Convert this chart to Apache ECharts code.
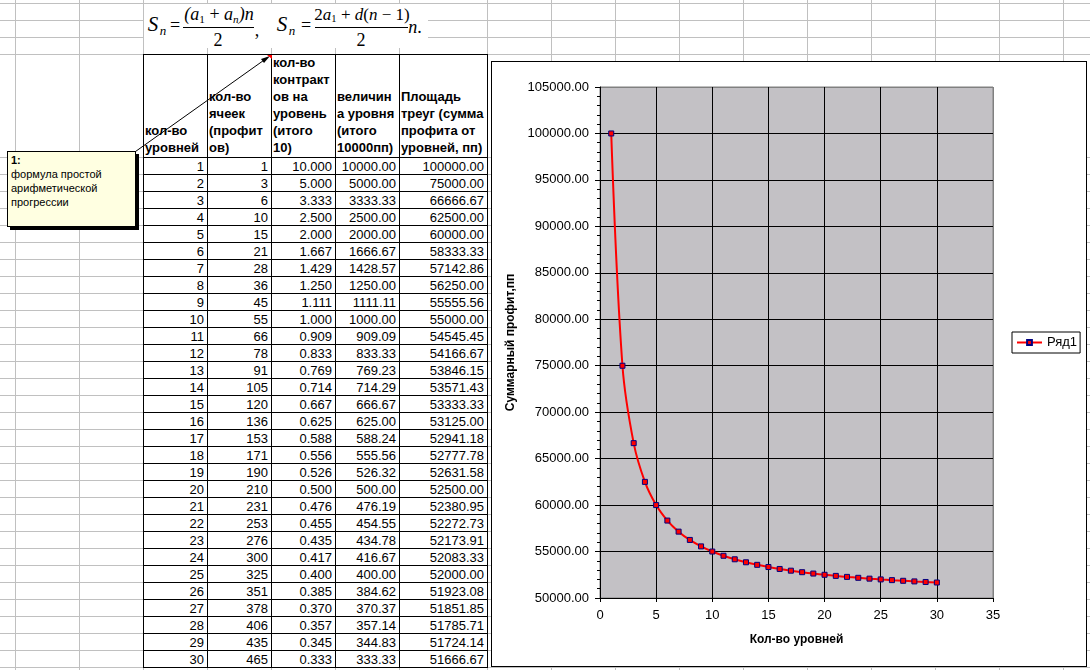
<!DOCTYPE html>
<html><head><meta charset="utf-8">
<script src="https://cdn.jsdelivr.net/npm/echarts@6/dist/echarts.min.js"></script>
<style>
html,body{margin:0;padding:0;width:1090px;height:670px;overflow:hidden;background:#fff;}
body{position:relative;font-family:Arial,"Liberation Sans",sans-serif;color:#000;}
.gv{position:absolute;width:1px;background:#c0c0c0;}
.gh{position:absolute;height:1px;background:#c0c0c0;}
.bv{position:absolute;width:1px;background:#000;}
.bh{position:absolute;height:1px;background:#000;}
.hd{position:absolute;font-weight:bold;font-size:13px;line-height:17px;white-space:nowrap;}
.dc{position:absolute;font-size:13px;line-height:17px;height:17px;text-align:right;white-space:nowrap;}
.fm{position:absolute;white-space:nowrap;transform:translate(-50%,-50%);font-family:"Liberation Serif","Times New Roman",serif;line-height:1;}
.fm i{font-style:italic;}
.fm sub{font-size:62%;vertical-align:-0.25em;line-height:0;}
#chartBox{position:absolute;left:491px;top:61px;width:596px;height:606px;border:1px solid #000;box-sizing:border-box;background:#fff;}
#chart{position:absolute;left:0;top:0;width:594px;height:604px;}
</style></head><body>
<div id="sheet"></div>
<div id="chartBox"><div id="chart"></div></div>
<script>
// ---- data ----
const levels = [1,2,3,4,5,6,7,8,9,10,11,12,13,14,15,16,17,18,19,20,21,22,23,24,25,26,27,28,29,30];
const cellsCount = [1,3,6,10,15,21,28,36,45,55,66,78,91,105,120,136,153,171,190,210,231,253,276,300,325,351,378,406,435,465];
const contracts = [10.000,5.000,3.333,2.500,2.000,1.667,1.429,1.250,1.111,1.000,0.909,0.833,0.769,0.714,0.667,0.625,0.588,0.556,0.526,0.500,0.476,0.455,0.435,0.417,0.400,0.385,0.370,0.357,0.345,0.333];
const levelSize = [10000.00,5000.00,3333.33,2500.00,2000.00,1666.67,1428.57,1250.00,1111.11,1000.00,909.09,833.33,769.23,714.29,666.67,625.00,588.24,555.56,526.32,500.00,476.19,454.55,434.78,416.67,400.00,384.62,370.37,357.14,344.83,333.33];
const profitSum = [100000.00,75000.00,66666.67,62500.00,60000.00,58333.33,57142.86,56250.00,55555.56,55000.00,54545.45,54166.67,53846.15,53571.43,53333.33,53125.00,52941.18,52777.78,52631.58,52500.00,52380.95,52272.73,52173.91,52083.33,52000.00,51923.08,51851.85,51785.71,51724.14,51666.67];
const headers = [
  ['кол-во','уровней'],
  ['кол-во','ячеек','(профит','ов)'],
  ['кол-во','контракт','ов на','уровень','(итого','10)'],
  ['величин','а уровня','(итого','10000пп)'],
  ['Площадь','треуг (сумма','профита от','уровней, пп)']
];
const seriesName = 'Ряд1';
const xTitle = 'Кол-во уровней';
const yTitle = 'Суммарный профит,пп';

// ---- spreadsheet ----
const sheet = document.getElementById('sheet');
function el(cls, css, html){const d=document.createElement('div');d.className=cls;Object.assign(d.style,css);if(html!==undefined)d.innerHTML=html;sheet.appendChild(d);return d;}
const gx=[15,79,143,207,271,335,399,487,551,615,679,743,807,871,935,999,1063];
gx.forEach(x=>el('gv',{left:x+'px',top:'0px',height:'670px'}));
const gy=[3,20,37,54];
for(let k=0;k<=31;k++) gy.push(157+17*k);
gy.forEach(y=>el('gh',{left:'0px',top:y+'px',width:'1090px'}));

// formula picture
el('',{position:'absolute',left:'144px',top:'4px',width:'284px',height:'44px',background:'#fff'});
function fm(html,cx,cy,size,extra){const d=el('fm',Object.assign({left:cx+'px',top:cy+'px',fontSize:size+'px'},extra||{}),html);return d;}
fm('<i>S</i>',153,24,21); fm('<i>n</i>',163,30,13); fm('=',175,25,18);
fm('<i>(a</i><sub>1</sub> + <i>a<sub>n</sub>)n</i>',219,14,18);
el('',{position:'absolute',left:'183px',top:'27px',width:'71px',height:'1px',background:'#000'});
fm('2',218,40,18); fm(',',257,30,18);
fm('<i>S</i>',282,24,21); fm('<i>n</i>',292,30,13); fm('=',306,25,18);
fm('2<i>a</i><sub>1</sub> + <i>d</i>(<i>n</i> − 1)',362,14,17);
el('',{position:'absolute',left:'315px',top:'27px',width:'93px',height:'1px',background:'#000'});
fm('2',361,40,18); fm('<i>n</i>.',415,27,18);

// table
const colX=[143,207,271,335,399,487];
const tTop=54,hBot=157,rowH=17,nRows=levels.length,tBot=hBot+rowH*nRows;
colX.forEach(x=>el('bv',{left:x+'px',top:tTop+'px',height:(tBot-tTop+1)+'px'}));
el('bh',{left:'143px',top:tTop+'px',width:'345px'});
for(let r=0;r<=nRows;r++) el('bh',{left:'143px',top:(hBot+rowH*r)+'px',width:'345px'});
headers.forEach((lines,c)=>el('hd',{left:(colX[c]+2)+'px',bottom:(670-156)+'px'},lines.join('<br>')));
const cols=[levels.map(String),cellsCount.map(String),contracts.map(v=>v.toFixed(3)),levelSize.map(v=>v.toFixed(2)),profitSum.map(v=>v.toFixed(2))];
cols.forEach((vals,c)=>vals.forEach((t,r)=>el('dc',{left:(colX[c]+1)+'px',width:(colX[c+1]-colX[c]-4)+'px',top:(hBot+rowH*r+1)+'px'},t)));

// comment
el('',{position:'absolute',left:'7px',top:'151px',width:'129px',height:'76px',border:'1px solid #000',boxSizing:'border-box',background:'#FFFFE1',boxShadow:'3px 3px 0 #000',fontSize:'11px',lineHeight:'14px',padding:'1px 3px',whiteSpace:'nowrap'},
  '<b>1:</b><br>формула простой<br>арифметической<br>прогрессии');
const svgNS='http://www.w3.org/2000/svg';
const svg=document.createElementNS(svgNS,'svg');
svg.setAttribute('width','1090');svg.setAttribute('height','670');
Object.assign(svg.style,{position:'absolute',left:'0',top:'0'});
svg.innerHTML='<line x1="135.5" y1="151.5" x2="267" y2="58" stroke="#000" stroke-width="1"/>'+
 '<polygon points="270,56 261,59 264,63" fill="#000"/>'+
 '<polygon points="267,55 272,55 272,59" fill="#f00"/>';
sheet.appendChild(svg);

// ---- chart ----
const seriesData = levels.map((x,i)=>[x,profitSum[i]]);
const ySplitColors = []; for(let i=0;i<11;i++) ySplitColors.push('#000'); ySplitColors.push('#808080');
const xSplitColors = ['#000','#000','#000','#000','#000','#000','#000','#808080'];
const FONT='Arial, "Liberation Sans", sans-serif';
const chart = echarts.init(document.getElementById('chart'));
chart.setOption({
  animation:false,
  backgroundColor:'#fff',
  textStyle:{fontFamily:FONT,color:'#000'},
  grid:{left:108,top:25,right:93,bottom:68,show:true,backgroundColor:'#C3C1C5',borderColor:'#808080',borderWidth:1},
  legend:{
    data:[seriesName],left:520,top:270,orient:'vertical',
    padding:[4,3,4,4],borderColor:'#000',borderWidth:1,backgroundColor:'#fff',borderRadius:0,
    itemWidth:25,itemHeight:6,itemGap:4,
    textStyle:{fontSize:13,color:'#000',fontFamily:FONT}
  },
  xAxis:{
    type:'value',min:0,max:35,interval:5,
    name:xTitle,nameLocation:'middle',nameGap:36,
    nameTextStyle:{fontWeight:'bold',fontSize:12,color:'#000',fontFamily:FONT},
    axisLine:{show:true,onZero:false,lineStyle:{color:'#000',width:1}},
    axisTick:{show:true,length:4,lineStyle:{color:'#000'}},
    axisLabel:{color:'#000',fontSize:13,margin:11,fontFamily:FONT},
    splitLine:{show:true,lineStyle:{color:xSplitColors,width:1}}
  },
  yAxis:{
    type:'value',min:50000,max:105000,interval:5000,
    name:yTitle,nameLocation:'middle',nameGap:70,
    nameTextStyle:{fontWeight:'bold',fontSize:12,color:'#000',fontFamily:FONT},
    axisLine:{show:true,onZero:false,lineStyle:{color:'#000',width:1}},
    axisTick:{show:true,length:5,lineStyle:{color:'#000'}},
    minorTick:{show:true,splitNumber:5,length:3,lineStyle:{color:'#000'}},
    axisLabel:{color:'#000',fontSize:13,margin:11,fontFamily:FONT,formatter:v=>v.toFixed(2)},
    splitLine:{show:true,lineStyle:{color:ySplitColors,width:1}}
  },
  series:[{
    type:'line',name:seriesName,data:seriesData,
    smooth:0.35,
    symbol:'rect',symbolSize:5,showAllSymbol:true,
    lineStyle:{color:'#FF0000',width:2},
    itemStyle:{color:'#FF0000',borderColor:'#000080',borderWidth:1}
  }]
});
</script>
</body></html>
